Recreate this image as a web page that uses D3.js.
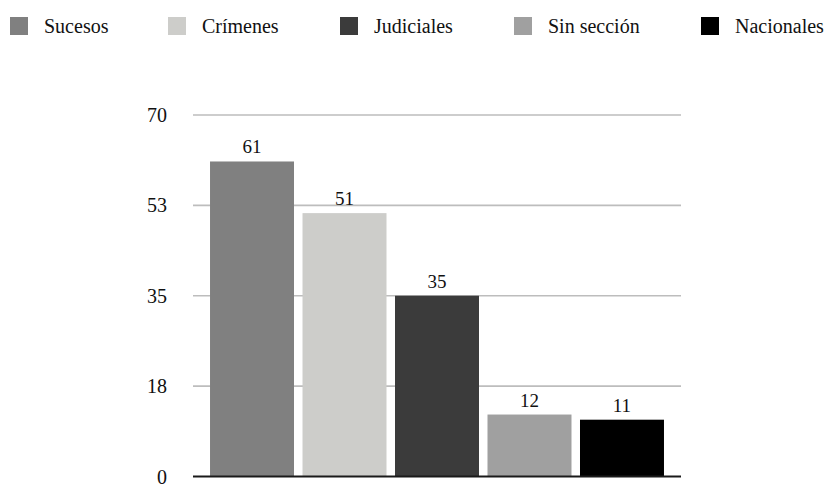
<!DOCTYPE html>
<html><head><meta charset="utf-8">
<script src="https://cdn.jsdelivr.net/npm/d3@7"></script>
<style>body{margin:0;background:#fff}svg{display:block}</style>
</head><body>
<svg id="c" width="827" height="485"></svg>
<script>
const categories = ["Sucesos", "Crímenes", "Judiciales", "Sin sección", "Nacionales"];
const values = [61, 51, 35, 12, 11];
const colors = ["#808080", "#cdcdca", "#3b3b3b", "#a0a0a0", "#000000"];
const tickValues = [0, 17.5, 35, 52.5, 70];
const tickLabels = ["0", "18", "35", "53", "70"];
const legendX = [10, 168, 340, 514, 701];

const svg = d3.select("#c");
const font = "'Liberation Serif', 'Times New Roman', serif";

const x = d3.scaleBand().domain(categories).range([193, 681])
  .paddingInner(0.092).paddingOuter(0.184);
const y = d3.scaleLinear().domain([0, 70]).range([476.5, 115]);

// gridlines
svg.append("g").selectAll("line").data(tickValues.filter(d => d > 0)).join("line")
  .attr("x1", 193).attr("x2", 681)
  .attr("y1", d => y(d)).attr("y2", d => y(d))
  .attr("stroke", "#bdbdbd").attr("stroke-width", 1.6);

// y labels
svg.append("g").selectAll("text").data(tickValues).join("text")
  .attr("x", 167).attr("y", d => y(d)).attr("dy", "0.35em")
  .attr("text-anchor", "end")
  .attr("font-family", font).attr("font-size", 20).attr("fill", "#111")
  .text((d, i) => tickLabels[i]);

// bars
svg.append("g").selectAll("rect").data(values).join("rect")
  .attr("x", (d, i) => x(categories[i]))
  .attr("width", x.bandwidth())
  .attr("y", d => y(d))
  .attr("height", d => y(0) - y(d))
  .attr("fill", (d, i) => colors[i]);

// value labels
svg.append("g").selectAll("text").data(values).join("text")
  .attr("x", (d, i) => x(categories[i]) + x.bandwidth() / 2)
  .attr("y", d => y(d) - 8)
  .attr("text-anchor", "middle")
  .attr("font-family", font).attr("font-size", 19).attr("fill", "#111")
  .text(d => d);

// baseline
svg.append("line").attr("x1", 193).attr("x2", 681)
  .attr("y1", y(0)).attr("y2", y(0))
  .attr("stroke", "#1a1a1a").attr("stroke-width", 2);

// legend
const lg = svg.append("g").selectAll("g").data(categories).join("g")
  .attr("transform", (d, i) => `translate(${legendX[i]},17)`);
lg.append("rect").attr("width", 18).attr("height", 18)
  .attr("fill", (d, i) => colors[i]);
lg.append("text").attr("x", 34).attr("y", 9).attr("dy", "0.35em")
  .attr("font-family", font).attr("font-size", 20).attr("fill", "#111")
  .text(d => d);
</script>
</body></html>
